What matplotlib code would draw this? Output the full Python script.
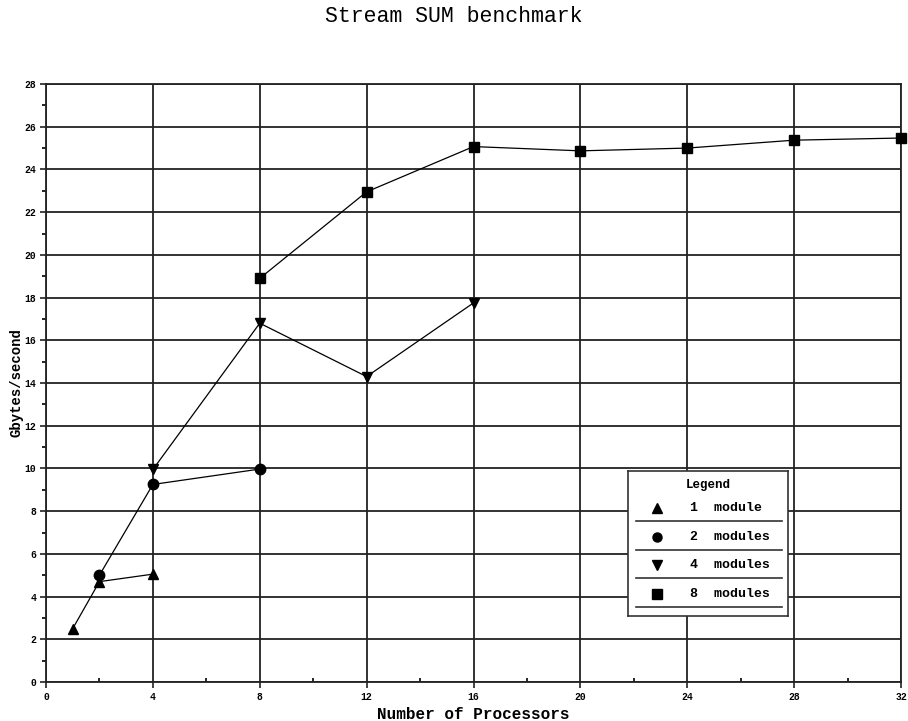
import matplotlib
matplotlib.use("Agg")
import matplotlib.pyplot as plt
from matplotlib.ticker import MultipleLocator

# Stream SUM results, Gbytes/second per processor count
procs_1 = [1, 2, 4]
gbs_1 = [2.5, 4.7, 5.05]

procs_2 = [2, 4, 8]
gbs_2 = [5.0, 9.25, 9.97]

procs_4 = [4, 8, 12, 16]
gbs_4 = [9.95, 16.8, 14.3, 17.75]

procs_8 = [8, 12, 16, 20, 24, 28, 32]
gbs_8 = [18.9, 22.95, 25.07, 24.87, 25.0, 25.37, 25.47]

series_labels = ["1  module", "2  modules", "4  modules", "8  modules"]
series_markers = ["^", "o", "v", "s"]
series_sizes = [7.5, 7.5, 7.5, 7.5]

x_ticks = [0, 4, 8, 12, 16, 20, 24, 28, 32]
y_ticks = list(range(0, 29, 2))

MONO = "Liberation Mono"


def main():
    W, H = 908, 721
    fig = plt.figure(figsize=(W / 100, H / 100), dpi=100)
    ax = fig.add_axes([46 / W, 1 - 682 / H, 855 / W, 598 / H])

    data = [(procs_1, gbs_1), (procs_2, gbs_2), (procs_4, gbs_4), (procs_8, gbs_8)]
    for (x, y), m, ms in zip(data, series_markers, series_sizes):
        ax.plot(x, y, color="black", lw=0.9, marker=m, ms=ms,
                markerfacecolor="black", markeredgecolor="black", zorder=3,
                clip_on=False)

    ax.set_xlim(0, 32)
    ax.set_ylim(0, 28)
    ax.set_xticks(x_ticks)
    ax.set_yticks(y_ticks)
    ax.xaxis.set_minor_locator(MultipleLocator(2))
    ax.yaxis.set_minor_locator(MultipleLocator(1))
    ax.grid(True, which="major", color="#222222", lw=1.3)
    ax.set_axisbelow(True)
    for s in ax.spines.values():
        s.set_color("#222222")
        s.set_linewidth(1.3)

    ax.tick_params(which="major", length=4, width=1.2, color="#222222", pad=3)
    ax.tick_params(axis="x", which="minor", direction="in", length=3, width=1.2)
    ax.tick_params(axis="y", which="minor", direction="out", length=3, width=1.2)
    for lab in ax.get_xticklabels() + ax.get_yticklabels():
        lab.set_fontfamily(MONO)
        lab.set_fontweight("bold")
        lab.set_fontsize(7)

    ax.set_xlabel("Number of Processors", family=MONO, weight="bold",
                  fontsize=11.5, labelpad=4)
    ax.set_ylabel("Gbytes/second", family=MONO, weight="bold",
                  fontsize=10, labelpad=1)
    fig.text(0.5, 1 - 16 / H, "Stream SUM benchmark", family=MONO,
             fontsize=15.5, ha="center", va="center")

    # legend panel with separator rules under each entry
    lx0, ly0, lw, lh = 628, 471, 160, 145
    lg = fig.add_axes([lx0 / W, 1 - (ly0 + lh) / H, lw / W, lh / H])
    lg.set_xlim(0, lw)
    lg.set_ylim(lh, 0)
    lg.set_xticks([])
    lg.set_yticks([])
    lg.set_facecolor("white")
    for s in lg.spines.values():
        s.set_color("#333333")
        s.set_linewidth(1.2)
    lg.text(lw / 2, 14, "Legend", family=MONO, weight="bold", fontsize=9,
            ha="center", va="center")
    for i, (lab, m) in enumerate(zip(series_labels, series_markers)):
        yc = 36.7 + i * 28.8
        lg.plot([29], [yc], marker=m, ms=6.5, color="black", ls="none")
        lg.text(62, yc, lab, family=MONO, weight="bold", fontsize=9.5,
                ha="left", va="center")
        lg.plot([8, 154], [yc + 13, yc + 13], color="#333333", lw=1.2)

    fig.savefig("out.png", dpi=100)
    plt.close(fig)


if __name__ == "__main__":
    main()
